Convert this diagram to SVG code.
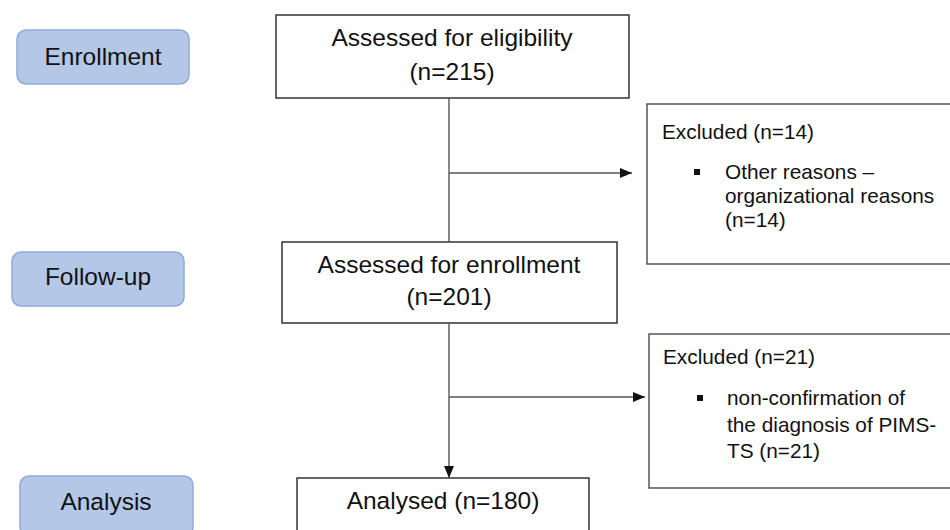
<svg xmlns="http://www.w3.org/2000/svg" width="950" height="530" viewBox="0 0 950 530">
<defs>
<style>
.stage rect{fill:#b4c7e7;stroke:#8eaadb;stroke-width:1.5}
.box rect{fill:#fff;stroke:#333;stroke-width:1.5}
.ex rect{fill:#fff;stroke:#555;stroke-width:1.5}
text{font-family:"Liberation Sans",Arial,sans-serif;fill:#111}
.big{font-size:24.5px;text-anchor:middle}
.sm{font-size:20.8px}
.conn line{stroke:#555;stroke-width:1.4;fill:none}
</style>
<marker id="ah" viewBox="0 0 12 10" refX="12" refY="5" markerWidth="12" markerHeight="10" markerUnits="userSpaceOnUse" orient="auto">
<path d="M0,0 L12,5 L0,10 z" fill="#111"/>
</marker>
</defs>
<rect width="950" height="530" fill="#fff"/>
<g id="enrollment" class="stage"><rect x="17" y="30" width="172" height="54" rx="9"/><text class="big" x="103" y="65">Enrollment</text></g>
<g id="followup" class="stage"><rect x="12" y="252" width="172" height="54" rx="9"/><text class="big" x="98" y="285">Follow-up</text></g>
<g id="analysis" class="stage"><rect x="20" y="476" width="173" height="60" rx="9"/><text class="big" x="106" y="510">Analysis</text></g>
<g id="eligibility" class="box"><rect x="276" y="15" width="353" height="83"/><text class="big" x="452" y="46">Assessed for eligibility</text><text class="big" x="452" y="80">(n=215)</text></g>
<g id="enroll" class="box"><rect x="282" y="242" width="335" height="81"/><text class="big" x="449" y="273">Assessed for enrollment</text><text class="big" x="449" y="305">(n=201)</text></g>
<g id="analysed" class="box"><rect x="297" y="478" width="292" height="60"/><text class="big" x="443" y="509">Analysed (n=180)</text></g>
<g id="excluded1" class="ex"><rect x="647" y="104" width="310" height="160"/>
<text class="sm" x="662" y="139">Excluded (n=14)</text>
<rect x="694" y="169" width="6" height="6" style="stroke:none;fill:#111"/>
<text class="sm" x="725" y="179">Other reasons –</text>
<text class="sm" x="725" y="203">organizational reasons</text>
<text class="sm" x="725" y="227">(n=14)</text></g>
<g id="excluded2" class="ex"><rect x="649" y="334" width="310" height="154"/>
<text class="sm" x="663" y="364">Excluded (n=21)</text>
<rect x="697" y="395" width="6" height="6" style="stroke:none;fill:#111"/>
<text class="sm" x="727" y="405">non-confirmation of</text>
<text class="sm" x="727" y="432">the diagnosis of PIMS-</text>
<text class="sm" x="727" y="458">TS (n=21)</text></g>
<g id="connectors" class="conn">
<line x1="449" y1="98" x2="449" y2="242"/>
<line x1="449" y1="173" x2="632" y2="173" marker-end="url(#ah)"/>
<line x1="449" y1="323" x2="449" y2="478" marker-end="url(#ah)"/>
<line x1="449" y1="397" x2="645" y2="397" marker-end="url(#ah)"/>
</g>
</svg>
